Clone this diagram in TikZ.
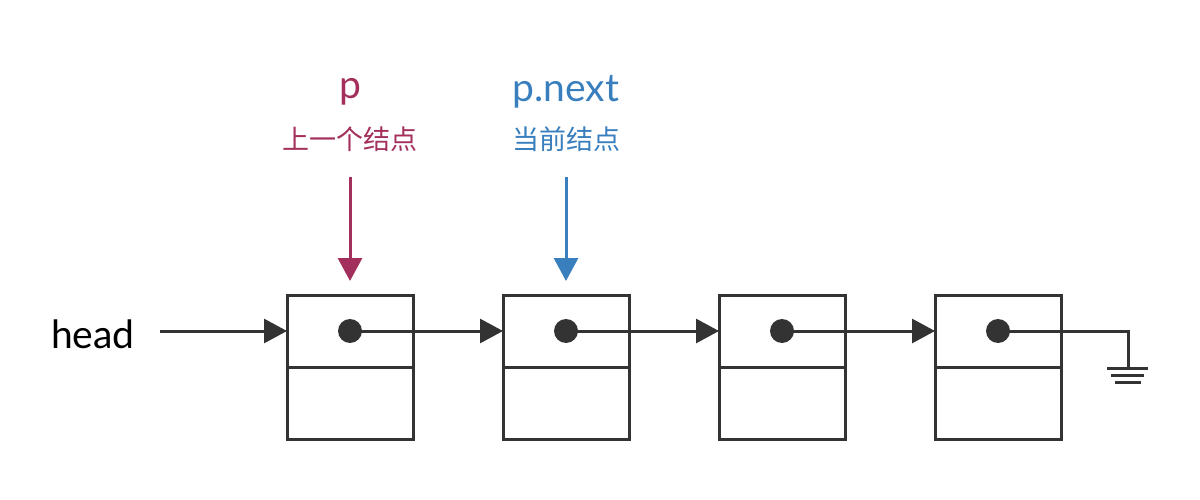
\documentclass[tikz,border=0pt]{standalone}
\usepackage{fontspec}
\setmainfont{Lato}
\newfontfamily\cjk{Noto Sans CJK SC}
\usetikzlibrary{arrows.meta}
\definecolor{ink}{HTML}{333333}
\definecolor{pred}{HTML}{A3305C}
\definecolor{pblue}{HTML}{3A7FBD}
\tikzset{
  cell/.style={draw=ink, line width=3pt, minimum width=126pt, minimum height=144pt, inner sep=0pt, outer sep=0pt},
  dot/.style={circle, fill=ink, minimum size=24pt, inner sep=0pt},
  link/.style={draw=ink, line width=3pt, -{Triangle[length=23pt,width=24pt]}},
  ptr/.style={line width=3pt, -{Triangle[length=23pt,width=24pt]}},
  gnd/.style={draw=ink, line width=3pt},
  big/.style={font=\fontsize{39}{44}\selectfont},
  cn/.style={font=\cjk\fontsize{27}{32}\selectfont},
}
\begin{document}
\begin{tikzpicture}[x=1pt,y=-1pt]
\useasboundingbox (0,0) rectangle (1200,500);
\foreach \i/\x in {1/350,2/566,3/782,4/998}{
  \node[cell] (n\i) at (\x,367) {};
  \draw[ink, line width=3pt] (n\i.west |- 0,367) -- (n\i.east |- 0,367);
  \node[dot] (d\i) at (\x,331) {};
}
\node[big, text=black] (head) at (93,334) {head};
\coordinate (hs) at (160,331);
\draw[link] (hs) -- (n1.west |- hs);
\draw[link] (d1.center) -- (n2.west |- d1);
\draw[link] (d2.center) -- (n3.west |- d2);
\draw[link] (d3.center) -- (n4.west |- d3);
\coordinate (g) at (1128,368);
\draw[ink, line width=3pt] (d4.center) -| (g);
\draw[gnd] (1107,368) -- (1148,368);
\draw[gnd] (1111,375) -- (1144,375);
\draw[gnd] (1115,382) -- (1141,382);
% labels
\node[big, text=pred] (p) at (350,92) {p};
\node[cn, text=pred] (pl) at (350,139) {上一个结点};
\node[big, text=pblue] (pn) at (566,92) {p.next};
\node[cn, text=pblue] (pnl) at (566,139) {当前结点};
\coordinate (ps) at (350,177);
\coordinate (pt) at (350,281);
\coordinate (pns) at (566,177);
\coordinate (pnt) at (566,281);
\draw[ptr, draw=pred] (ps) -- (pt);
\draw[ptr, draw=pblue] (pns) -- (pnt);
\end{tikzpicture}
\end{document}
